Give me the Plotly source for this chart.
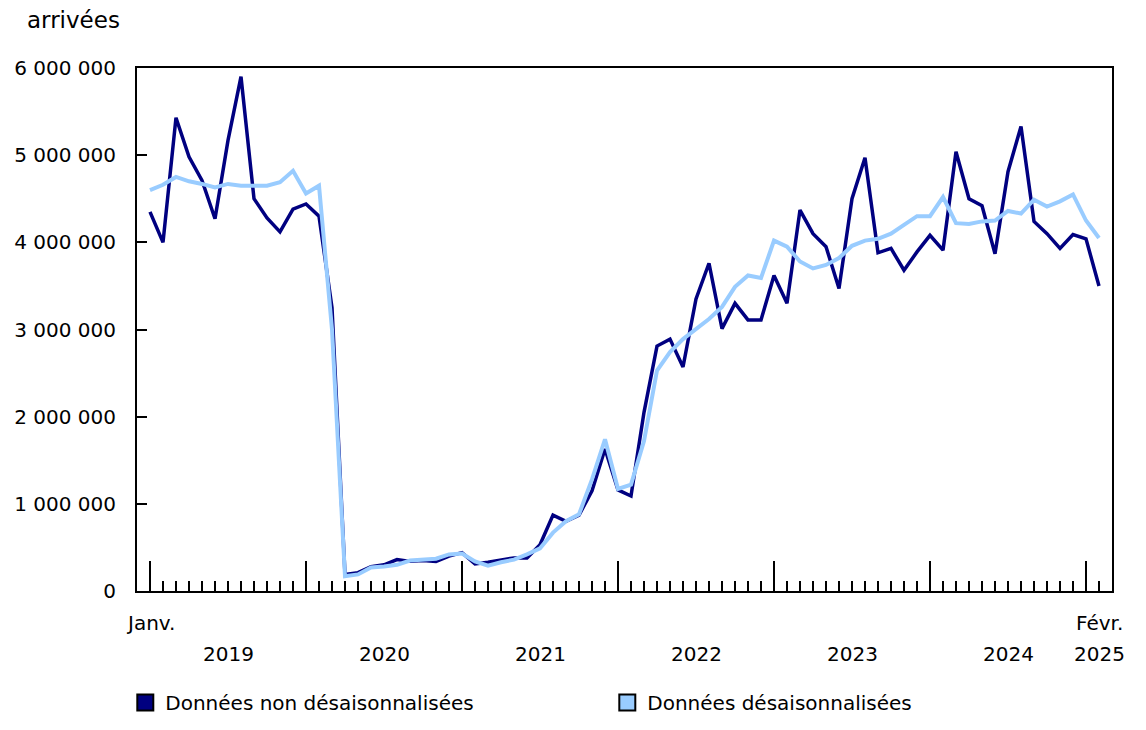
import plotly.graph_objs as go

# monthly arrivals, Jan 2019 -> Feb 2025 (millions)
months = list(range(74))

non_sa = [4.35, 4.00, 5.43, 4.98, 4.71, 4.27, 5.17, 5.90, 4.50, 4.28, 4.12, 4.38,
          4.44, 4.30, 3.25, 0.19, 0.21, 0.28, 0.30, 0.36, 0.34, 0.35, 0.34, 0.40,
          0.44, 0.31, 0.33, 0.36, 0.38, 0.38, 0.53, 0.87, 0.80, 0.87, 1.15, 1.63,
          1.16, 1.09, 2.05, 2.81, 2.89, 2.57, 3.35, 3.76, 3.01, 3.30, 3.11, 3.11,
          3.62, 3.30, 4.37, 4.10, 3.95, 3.47, 4.50, 4.97, 3.88, 3.93, 3.68, 3.89,
          4.08, 3.91, 5.04, 4.50, 4.42, 3.87, 4.81, 5.33, 4.24, 4.10, 3.93, 4.09,
          4.04, 3.50]

sa = [4.60, 4.66, 4.75, 4.70, 4.67, 4.63, 4.67, 4.65, 4.65, 4.65, 4.69, 4.82,
      4.56, 4.65, 3.00, 0.17, 0.19, 0.27, 0.28, 0.30, 0.35, 0.36, 0.37, 0.42,
      0.43, 0.34, 0.29, 0.33, 0.36, 0.42, 0.49, 0.67, 0.80, 0.88, 1.28, 1.74,
      1.17, 1.22, 1.72, 2.53, 2.74, 2.89, 3.01, 3.12, 3.26, 3.49, 3.62, 3.59,
      4.02, 3.95, 3.78, 3.70, 3.74, 3.82, 3.96, 4.02, 4.04, 4.10, 4.20, 4.30,
      4.30, 4.52, 4.22, 4.21, 4.24, 4.25, 4.36, 4.33, 4.49, 4.41, 4.47, 4.55,
      4.25, 4.05]

years = ["2019", "2020", "2021", "2022", "2023", "2024", "2025"]
year_pos = [6, 18, 30, 42, 54, 66, 73]
y_ticks = [0, 1000000, 2000000, 3000000, 4000000, 5000000, 6000000]
y_labels = ["0", "1 000 000", "2 000 000", "3 000 000", "4 000 000", "5 000 000", "6 000 000"]

dark = "#000080"
light = "#99CCFF"
font = "DejaVu Sans"

fig = go.Figure()

fig.add_trace(go.Scatter(x=months, y=[v * 1e6 for v in non_sa], mode="lines",
                         line=dict(color=dark, width=3.5), showlegend=False))
fig.add_trace(go.Scatter(x=months, y=[v * 1e6 for v in sa], mode="lines",
                         line=dict(color=light, width=4), showlegend=False))

# legend entries as squares
fig.add_trace(go.Scatter(x=[None], y=[None], mode="markers", name="Données non désaisonnalisées",
                         marker=dict(symbol="square", size=20, color=dark, line=dict(color="black", width=2))))
fig.add_trace(go.Scatter(x=[None], y=[None], mode="markers", name="Données désaisonnalisées",
                         marker=dict(symbol="square", size=20, color=light, line=dict(color="black", width=2))))

fig.update_layout(
    width=1146, height=730,
    margin=dict(l=129, r=42, t=60, b=147, autoexpand=False),
    plot_bgcolor="white", paper_bgcolor="white",
    font=dict(family=font, size=20, color="black"),
    legend=dict(orientation="h", x=-0.012, xanchor="left", y=-0.176, yanchor="top",
                entrywidth=437, entrywidthmode="pixels", font=dict(size=20)),
)

fig.update_xaxes(range=[-1, 74], showline=True, mirror=True, linecolor="black", linewidth=2,
                 showgrid=False, zeroline=False, showticklabels=False, automargin=False,
                 tickmode="array", tickvals=[0, 12, 24, 36, 48, 60, 72],
                 ticks="inside", ticklen=30, tickwidth=2, tickcolor="black",
                 minor=dict(tickmode="array", tickvals=months, ticks="inside", ticklen=10,
                            tickwidth=2, tickcolor="black"))
fig.update_yaxes(range=[0, 6000000], showline=True, mirror=True, linecolor="black", linewidth=2,
                 showgrid=False, zeroline=False, tickmode="array", tickvals=y_ticks, ticktext=y_labels,
                 ticks="inside", ticklen=10, tickwidth=2, tickcolor="black",
                 ticklabelstandoff=15, automargin=False)

fig.add_annotation(text="arrivées", xref="paper", yref="paper", x=-0.115, y=1.092,
                   xanchor="left", yanchor="middle", showarrow=False, font=dict(size=23))
fig.add_annotation(text="Janv.", x=0, xref="x", yref="paper", y=-0.061,
                   yanchor="middle", showarrow=False)
fig.add_annotation(text="Févr.", x=73, xref="x", yref="paper", y=-0.061,
                   yanchor="middle", showarrow=False)
for yr, pos in zip(years, year_pos):
    fig.add_annotation(text=yr, x=pos, xref="x", yref="paper", y=-0.12,
                       yanchor="middle", showarrow=False)

fig.write_html("out.html")
